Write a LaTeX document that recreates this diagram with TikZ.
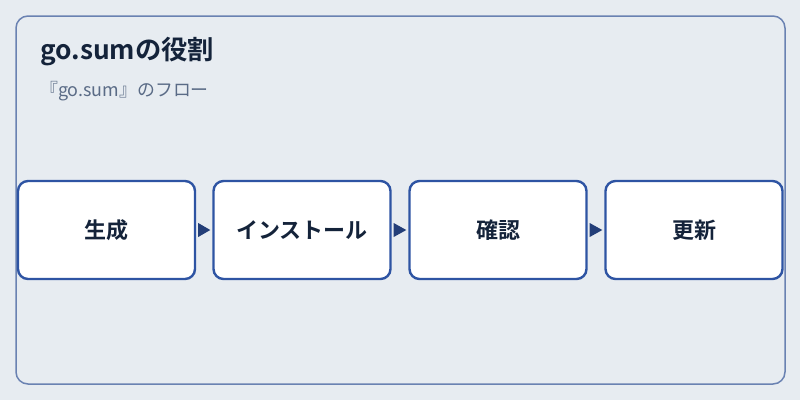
\documentclass[tikz,border=0pt]{standalone}
\usepackage{fontspec}
\newfontfamily\cjk{Noto Sans CJK JP}
\newfontfamily\cjkb{Noto Sans CJK JP Bold}
\definecolor{bg}{HTML}{E7ECF1}
\definecolor{frame}{HTML}{6A82B2}
\definecolor{boxc}{HTML}{2E54A3}
\definecolor{titlec}{HTML}{14233A}
\definecolor{subc}{HTML}{5A6B86}
\definecolor{arrc}{HTML}{233E78}
\tikzset{
  stepbox/.style={draw=boxc, line width=2.4pt, fill=white, rounded corners=10pt,
    minimum width=177pt, minimum height=98pt, inner sep=0pt,
    font=\cjkb\fontsize{22}{24}\selectfont, text=titlec},
  tri/.style={fill=arrc, draw=none}
}
\begin{document}
\begin{tikzpicture}[x=1pt,y=-1pt]
\fill[bg] (0,0) rectangle (800,400);
\useasboundingbox (0,0) rectangle (800,400);
\draw[frame, line width=1.5pt, rounded corners=12pt] (16,16) rectangle (785,384);
\node[anchor=base west, inner sep=0pt, text=titlec, font=\cjkb\fontsize{26.3}{30}\selectfont] (title) at (40,59) {go.sumの役割};
\node[anchor=base west, inner sep=0pt, text=subc, font=\cjk\fontsize{17.9}{20}\selectfont] (sub) at (40,96) {『go.sum』のフロー};
\node[stepbox] (a) at (106.5,230) {生成};
\node[stepbox] (b) at (302,230) {インストール};
\node[stepbox] (c) at (498,230) {確認};
\node[stepbox] (d) at (694,230) {更新};
\path[tri] ([xshift=2pt]a.east) -- ([xshift=2pt,yshift=7pt]a.east) -- ([xshift=-2pt]b.west) -- ([xshift=2pt,yshift=-7pt]a.east) -- cycle;
\path[tri] ([xshift=2pt]b.east) -- ([xshift=2pt,yshift=7pt]b.east) -- ([xshift=-2pt]c.west) -- ([xshift=2pt,yshift=-7pt]b.east) -- cycle;
\path[tri] ([xshift=2pt]c.east) -- ([xshift=2pt,yshift=7pt]c.east) -- ([xshift=-2pt]d.west) -- ([xshift=2pt,yshift=-7pt]c.east) -- cycle;
\end{tikzpicture}
\end{document}
